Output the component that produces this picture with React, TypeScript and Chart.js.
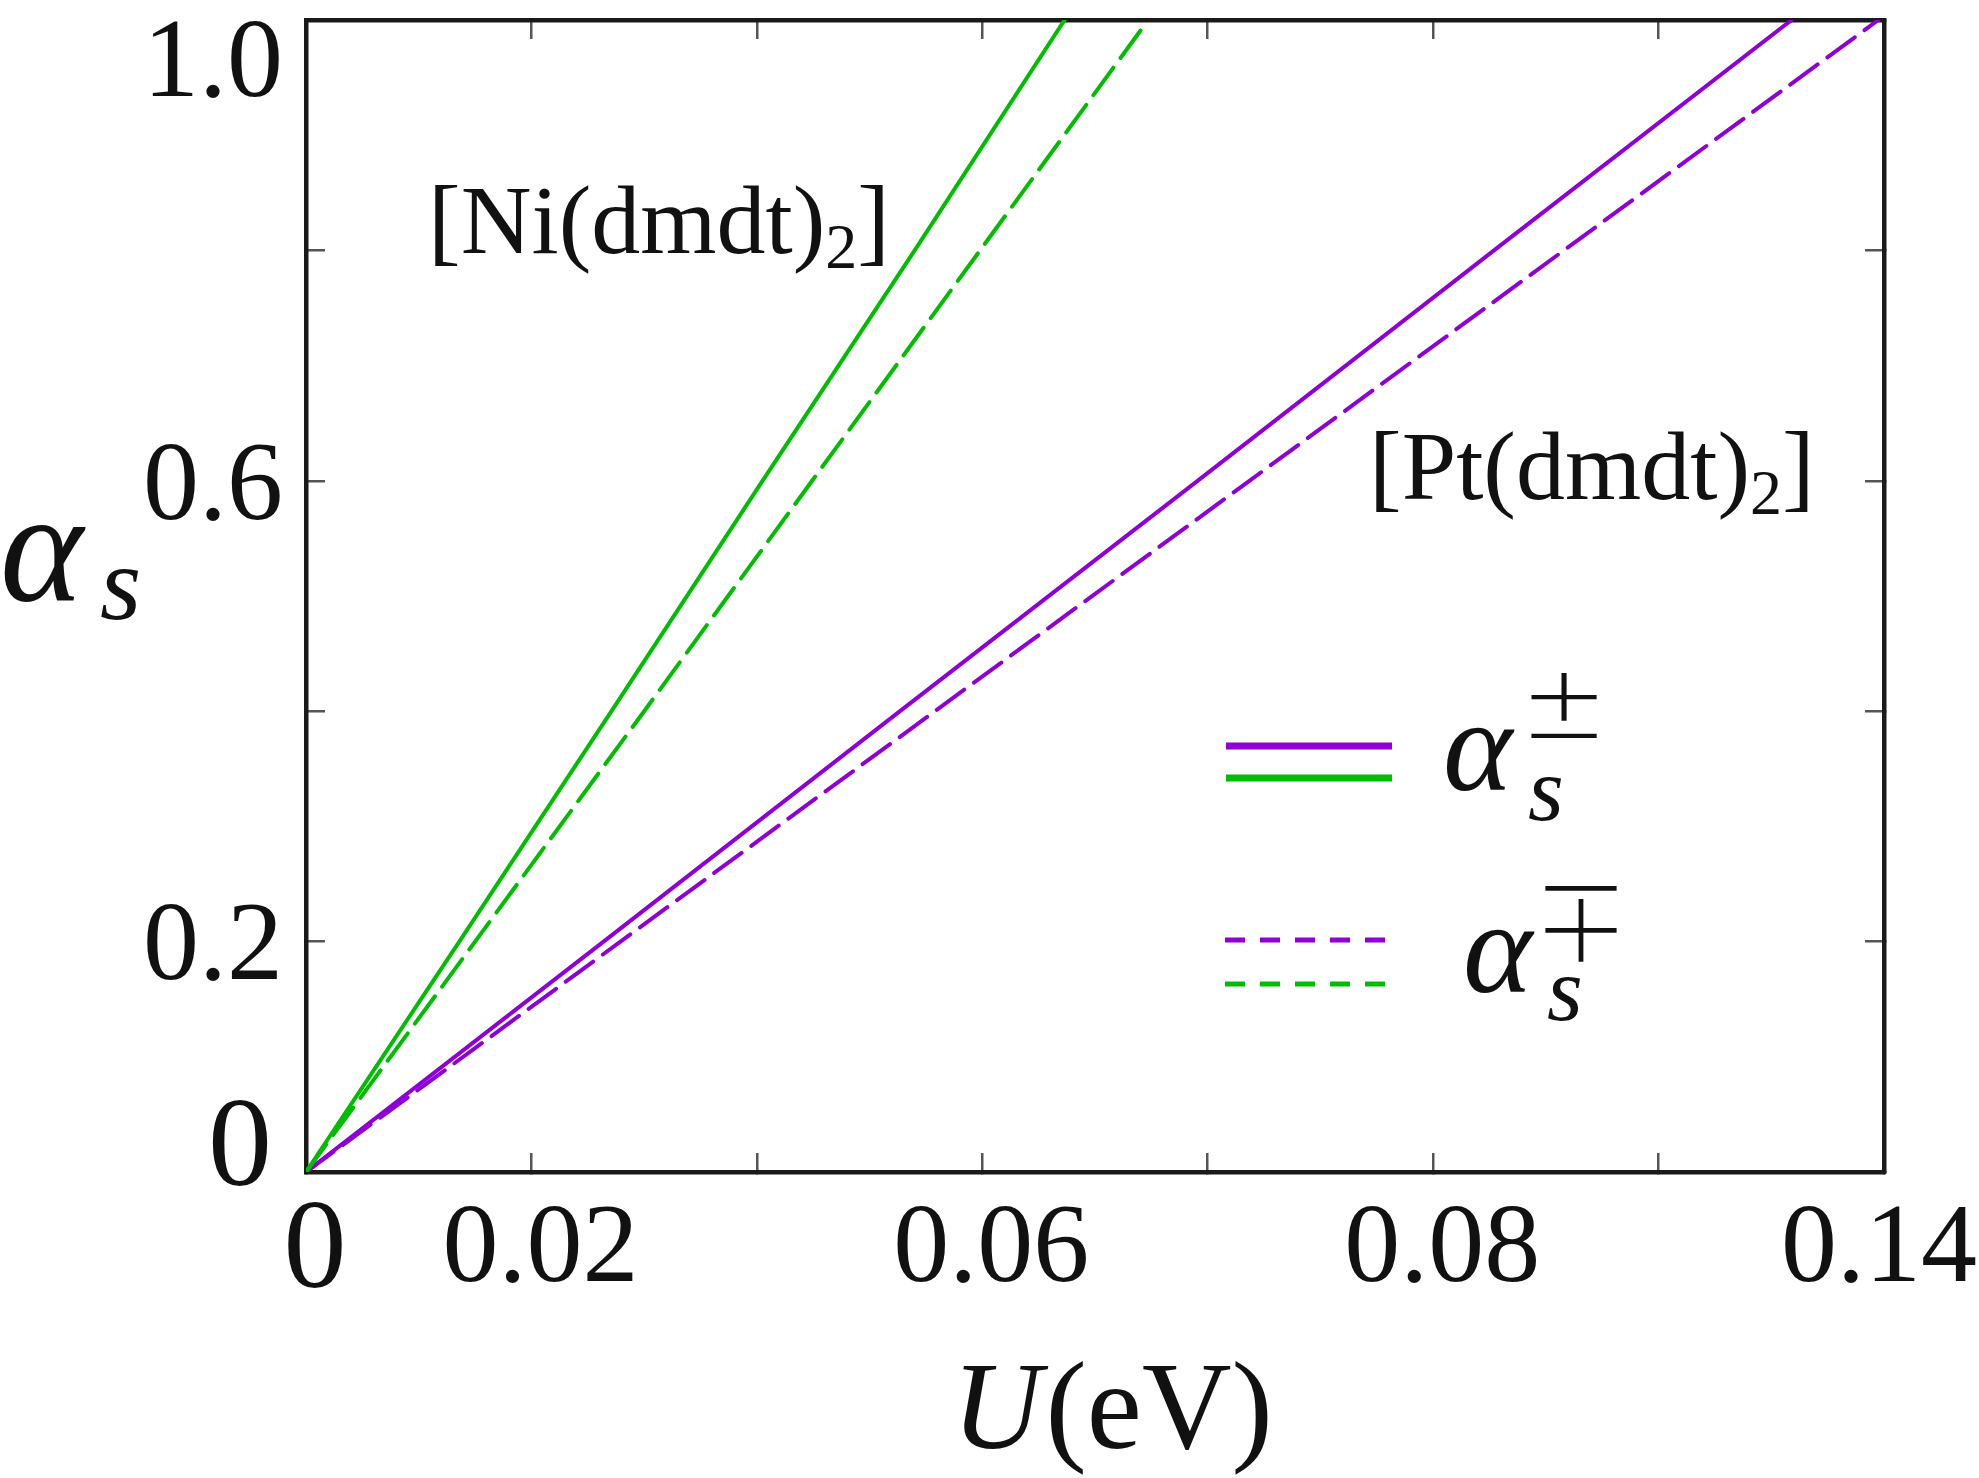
import React, { useEffect, useRef } from 'react';
import { Chart, registerables } from 'chart.js';

Chart.register(...registerables);

const W = 1979;
const H = 1478;

const purple = '#8f00d6';
const green = '#00bd00';

// x ticks every 0.02 (0 .. 0.14); only some carry a label, as printed in the figure
const xTickValues = [0, 0.02, 0.06, 0.1, 0.14];
const xTickLabels = ['0', '0.02', '0.06', '0.08', '0.14'];
const yTickValues = [0, 0.2, 0.6, 1.0];
const yTickLabels = ['0', '0.2', '0.6', '1.0'];

// [Ni(dmdt)2], alpha_s^{+-} (solid) and alpha_s^{-+} (dashed)
const niPlusU = [0, 0.0136, 0.0271, 0.0405, 0.054, 0.0673];
const niPlusA = [0, 0.2, 0.4, 0.6, 0.8, 1.0];
const niMinusU = [0, 0.015, 0.03, 0.0449, 0.0598, 0.0742];
const niMinusA = [0, 0.2, 0.4, 0.6, 0.8, 0.993];

// [Pt(dmdt)2]
const ptPlusU = [0, 0.0264, 0.0527, 0.0791, 0.1054, 0.1318];
const ptPlusA = [0, 0.2, 0.4, 0.6, 0.8, 1.0];
const ptMinusU = [0, 0.0279, 0.0558, 0.0837, 0.1116, 0.1395];
const ptMinusA = [0, 0.2, 0.4, 0.6, 0.8, 1.0];

const pts = (u: number[], a: number[]) => u.map((x, i) => ({ x, y: a[i] }));

const serif = "'Liberation Serif', 'DejaVu Serif', serif";
const symFont = "'DejaVu Sans', 'DejaVu Serif', sans-serif";
const mpFont = "'Noto Sans CJK JP', 'DejaVu Sans', sans-serif";

// draws a run of text pieces one after another, returns end x
function run(ctx: CanvasRenderingContext2D, x: number, parts: [string, string, number][]) {
  let cx = x;
  ctx.textAlign = 'left';
  for (const [txt, font, base] of parts) {
    ctx.font = font;
    ctx.fillText(txt, cx, base);
    cx += ctx.measureText(txt).width;
  }
  return cx;
}

const texPlugin = {
  id: 'texLabels',
  afterDraw(chart: any) {
    const { ctx, chartArea: a, scales } = chart;
    ctx.save();
    ctx.fillStyle = '#111';
    ctx.textBaseline = 'alphabetic';

    // x tick labels
    ctx.textAlign = 'center';
    xTickValues.forEach((v, i) => {
      const txt = xTickLabels[i];
      const big = txt === '0';
      ctx.font = `${big ? 126 : 112}px ${serif}`;
      const w = ctx.measureText(txt).width;
      let px = scales.x.getPixelForValue(v) + 9;
      px = Math.min(px, W - w / 2 - 2);
      ctx.fillText(txt, px, big ? 1287 : 1281);
    });

    // y tick labels, end ones kept inside the frame
    ctx.textAlign = 'right';
    yTickValues.forEach((v, i) => {
      const txt = yTickLabels[i];
      const big = txt === '0';
      const size = big ? 128 : 112;
      ctx.font = `${size}px ${serif}`;
      const py = scales.y.getPixelForValue(v);
      const c = Math.min(Math.max(py, a.top + 38), a.bottom - 30);
      ctx.fillText(txt, big ? 272 : 283, c + size * 0.338);
    });

    // compound labels
    const fMain = `98px ${serif}`;
    const fSub = `64px ${serif}`;
    run(ctx, 428, [['[Ni(dmdt)', fMain, 253], ['2', fSub, 268], [']', fMain, 253]]);
    run(ctx, 1369, [['[Pt(dmdt)', fMain, 499], ['2', fSub, 514], [']', fMain, 499]]);

    // y axis title alpha_s
    ctx.textAlign = 'left';
    ctx.font = `italic 158px ${serif}`;
    ctx.fillText('α', 0, 600);
    ctx.font = `italic 106px ${serif}`;
    ctx.fillText('s', 100, 619);

    // x axis title U(eV)
    const end = run(ctx, 952, [['U', `italic 124px ${serif}`, 1448]]);
    run(ctx, end + 4, [['(eV)', `124px ${serif}`, 1448]]);

    // legend
    const sample = (y: number, color: string, lw: number, dash: number[], x1: number, x2: number) => {
      ctx.save();
      ctx.strokeStyle = color;
      ctx.lineWidth = lw;
      ctx.setLineDash(dash);
      ctx.beginPath();
      ctx.moveTo(x1, y);
      ctx.lineTo(x2, y);
      ctx.stroke();
      ctx.restore();
    };
    sample(746, purple, 7, [], 1226, 1392);
    sample(778, green, 7, [], 1226, 1392);
    sample(940, purple, 5, [20, 15], 1225, 1385);
    sample(984, green, 5, [20, 15], 1225, 1385);

    ctx.textAlign = 'left';
    ctx.font = `italic 132px ${serif}`;
    ctx.fillText('α', 1443, 790);
    ctx.fillText('α', 1463, 992);
    ctx.font = `italic 92px ${serif}`;
    ctx.fillText('s', 1528, 820);
    ctx.fillText('s', 1547, 1020);
    ctx.textAlign = 'center';
    ctx.font = `200 104px ${symFont}`;
    ctx.fillText('±', 1564, 738);
    ctx.font = `300 96px ${mpFont}`;
    ctx.fillText('∓', 1581, 958);

    ctx.restore();
  },
};

const frameAxis = (position: string, size: number) => ({
  type: 'linear' as const,
  position,
  ticks: { display: false },
  grid: {
    display: true,
    drawOnChartArea: false,
    drawTicks: true,
    tickLength: -19,
    color: '#555',
    lineWidth: 2.5,
  },
  border: { display: true, color: '#1a1a1a', width: 4.5 },
  afterFit: (s: any) => {
    if (position === 'left' || position === 'right') s.width = size;
    else s.height = size;
  },
});

const App: React.FC = () => {
  const canvasRef = useRef<HTMLCanvasElement>(null);

  useEffect(() => {
    document.body.style.margin = '0';
    if (!canvasRef.current) return;

    const xOpts = { min: 0, max: 0.14, ticks: { display: false, stepSize: 0.02 } };
    const yOpts = { min: 0, max: 1, ticks: { display: false, stepSize: 0.2 } };
    const dash = [34, 12];

    const chart = new Chart(canvasRef.current, {
      type: 'line',
      data: {
        datasets: [
          { label: 'Ni +-', data: pts(niPlusU, niPlusA), borderColor: green, borderWidth: 4 },
          { label: 'Ni -+', data: pts(niMinusU, niMinusA), borderColor: green, borderWidth: 4, borderDash: dash },
          { label: 'Pt +-', data: pts(ptPlusU, ptPlusA), borderColor: purple, borderWidth: 4 },
          { label: 'Pt -+', data: pts(ptMinusU, ptMinusA), borderColor: purple, borderWidth: 4, borderDash: dash },
        ],
      },
      options: {
        animation: false,
        responsive: false,
        devicePixelRatio: 1,
        parsing: false,
        layout: { padding: { left: 0, top: 20, right: W - 1884, bottom: 0 } },
        elements: { point: { radius: 0 }, line: { tension: 0, borderCapStyle: 'round' } },
        plugins: { legend: { display: false }, tooltip: { enabled: false } },
        scales: {
          x: { ...frameAxis('bottom', H - 1172), ...xOpts },
          xTop: { ...frameAxis('top', 0), ...xOpts },
          y: { ...frameAxis('left', 306), ...yOpts },
          yRight: { ...frameAxis('right', 0), ...yOpts },
        } as any,
      },
      plugins: [texPlugin],
    });

    return () => chart.destroy();
  }, []);

  return (
    <div style={{ width: W, height: H, background: '#fff' }}>
      <canvas ref={canvasRef} width={W} height={H} />
    </div>
  );
};

export default App;
